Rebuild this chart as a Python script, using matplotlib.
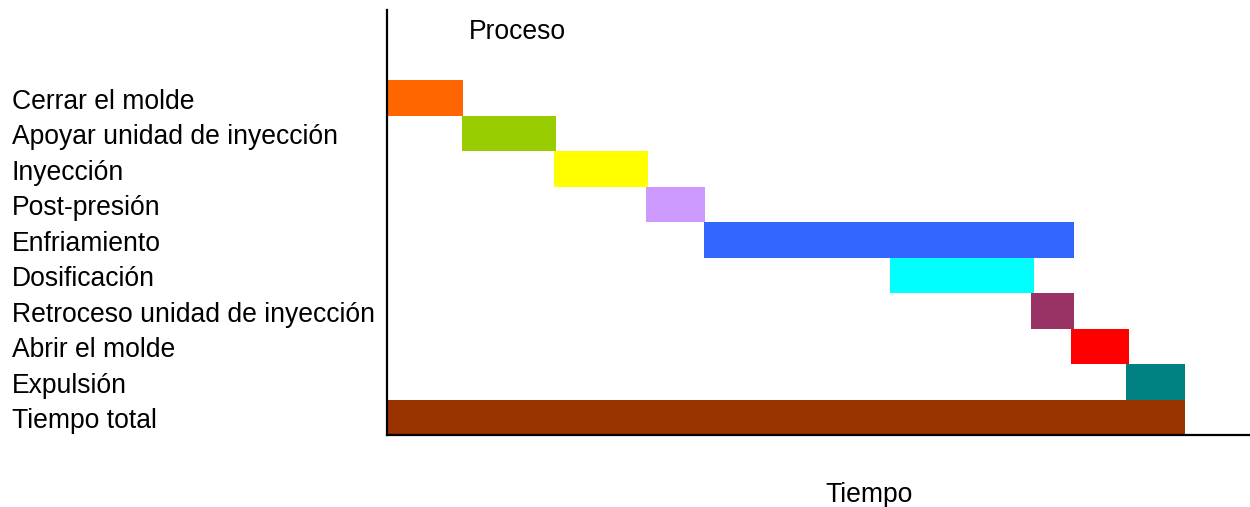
import matplotlib.pyplot as plt
from matplotlib.transforms import blended_transform_factory

plt.rcParams["font.family"] = ["Liberation Sans", "DejaVu Sans"]

# injection moulding cycle, top to bottom
stages = [
    "Cerrar el molde",
    "Apoyar unidad de inyección",
    "Inyección",
    "Post-presión",
    "Enfriamiento",
    "Dosificación",
    "Retroceso unidad de inyección",
    "Abrir el molde",
    "Expulsión",
    "Tiempo total",
]
starts = [0.0, 9.4, 20.9, 32.5, 39.7, 63.0, 80.7, 85.7, 92.6, 0.0]
ends = [9.5, 21.2, 32.7, 39.8, 86.0, 81.0, 86.0, 92.9, 100.0, 100.0]
colors = ["#FF6600", "#99CC00", "#FFFF00", "#CC99FF", "#3366FF",
          "#00FFFF", "#993366", "#FF0000", "#008080", "#993300"]

FONT = 19.1


def main():
    fig = plt.figure(figsize=(12.5, 5.07), dpi=100)
    ax = fig.add_axes([0.3096, 0.142, 0.6904, 0.838])

    n = len(stages)
    label_tf = blended_transform_factory(fig.transFigure, ax.transData)
    for i, name in enumerate(stages):
        y = n - 1 - i
        ax.barh(y, ends[i] - starts[i], left=starts[i], height=1.0,
                align="edge", color=colors[i], linewidth=0)
        ax.text(0.0096, y + 0.39, name, transform=label_tf, ha="left",
                va="center", fontsize=FONT, clip_on=False)

    ax.set_xlim(0, 108.1)
    ax.set_ylim(0, 11.97)
    ax.set_xticks([])
    ax.set_yticks([])
    for side in ["top", "right"]:
        ax.spines[side].set_visible(False)
    for side in ["left", "bottom"]:
        ax.spines[side].set_linewidth(1.6)

    fig.text(0.414, 0.937, "Proceso", ha="center", va="center", fontsize=FONT)
    fig.text(0.6952, 0.023, "Tiempo", ha="center", va="center", fontsize=FONT)

    fig.savefig("out.png", dpi=100)


if __name__ == "__main__":
    main()
